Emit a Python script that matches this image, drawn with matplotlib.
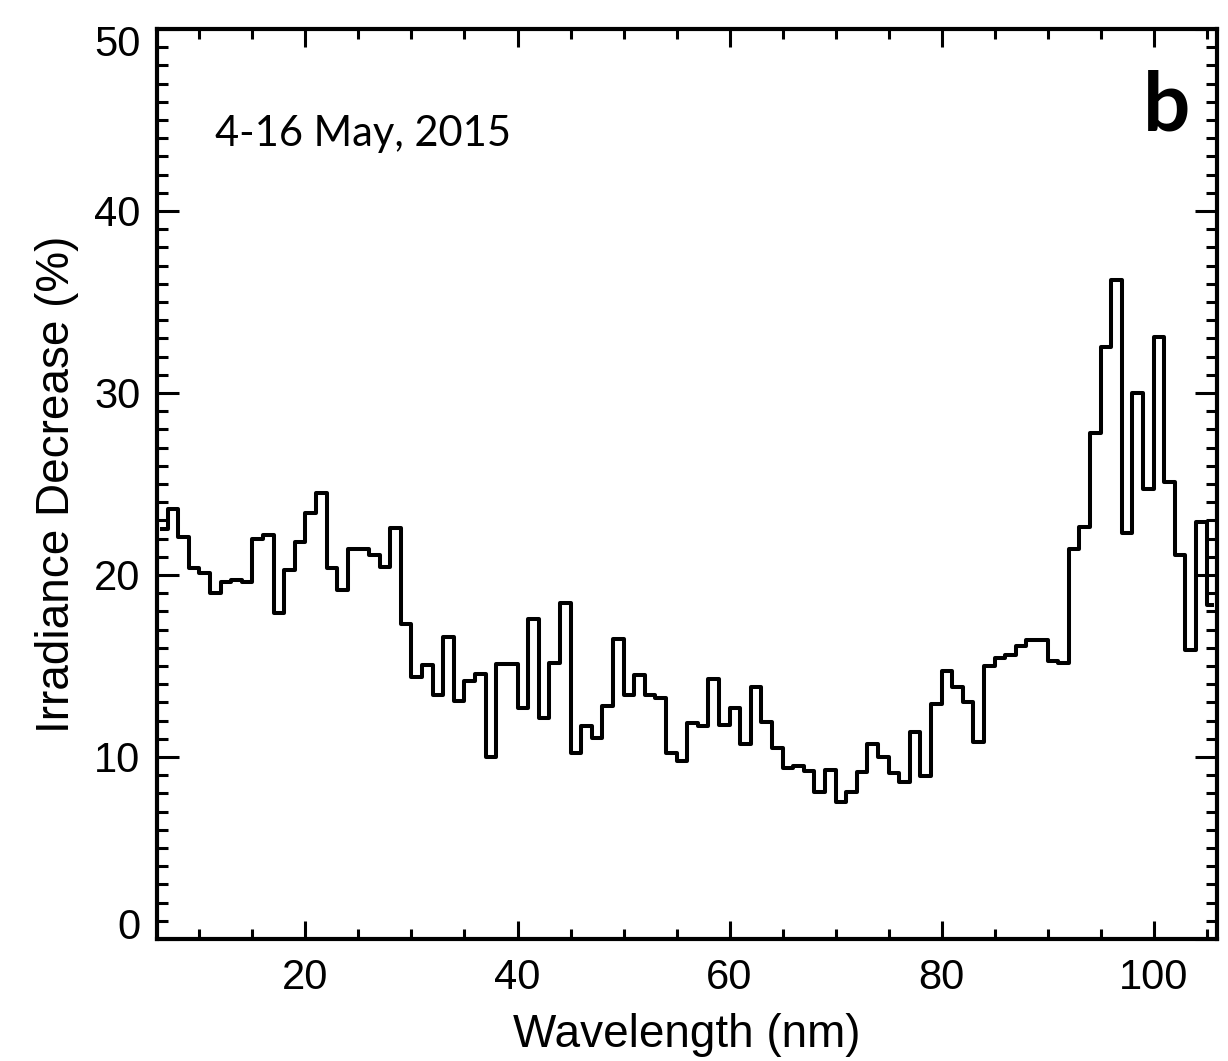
import numpy as np
import matplotlib
matplotlib.use("Agg")
import matplotlib.pyplot as plt
from matplotlib.ticker import MultipleLocator, FuncFormatter

# 1 nm bins, centres 6.5 ... 105.5 nm
wavelength = np.arange(6.5, 106.0, 1.0)

# irradiance decrease (%) for 4-16 May 2015
decrease = [
    22.5, 23.6, 22.1, 20.4, 20.1, 19.0, 19.6, 19.7, 19.6, 22.0,   # 6.5 - 15.5
    22.2, 17.9, 20.3, 21.8, 23.4, 24.5, 20.4, 19.2, 21.4, 21.4,   # 16.5 - 25.5
    21.1, 20.45, 22.6, 17.3, 14.4, 15.05, 13.4, 16.6, 13.05, 14.15,  # 26.5 - 35.5
    14.55, 10.0, 15.1, 15.1, 12.7, 17.6, 12.15, 15.15, 18.45, 10.2,  # 36.5 - 45.5
    11.7, 11.05, 12.8, 16.5, 13.4, 14.5, 13.4, 13.25, 10.2, 9.8,  # 46.5 - 55.5
    11.85, 11.7, 14.3, 11.75, 12.7, 10.7, 13.85, 11.9, 10.5, 9.4,  # 56.5 - 65.5
    9.5, 9.25, 8.05, 9.3, 7.5, 8.05, 9.2, 10.7, 10.0, 9.1,        # 66.5 - 75.5
    8.65, 11.35, 8.95, 12.9, 14.75, 13.85, 13.0, 10.85, 15.0, 15.45,  # 76.5 - 85.5
    15.6, 16.1, 16.45, 16.4, 15.3, 15.15, 21.4, 22.65, 27.8, 32.55,  # 86.5 - 95.5
    36.2, 22.3, 30.0, 24.7, 33.1, 25.1, 21.1, 15.9, 22.9, 18.35,  # 96.5 - 105.5
]

y_min, y_max = 0, 50

plt.rcParams['font.family'] = ['Liberation Sans', 'DejaVu Sans']

fig = plt.figure(figsize=(12.28, 10.61), dpi=100)
ax = fig.add_axes([0.1279, 0.115, 0.8633, 0.8577])

ax.step(wavelength, decrease, where='mid', color='black', linewidth=2.9)

ax.set_xlim(6, 106)
ax.set_ylim(y_min, y_max)
ax.xaxis.set_major_locator(MultipleLocator(20))
ax.xaxis.set_minor_locator(MultipleLocator(5))
ax.yaxis.set_major_locator(MultipleLocator(10))
ax.yaxis.set_minor_locator(MultipleLocator(1))

# end labels are drawn separately so they sit inside the axis range
ax.yaxis.set_major_formatter(FuncFormatter(
    lambda v, pos: '' if v in (y_min, y_max) else f'{v:.0f}'))
ax.annotate(f'{y_min}', xy=(0, y_min), xycoords=('axes fraction', 'data'),
            xytext=(-12, 0), textcoords='offset points',
            ha='right', va='baseline', fontsize=30)
ax.annotate(f'{y_max}', xy=(0, y_max), xycoords=('axes fraction', 'data'),
            xytext=(-12, 3), textcoords='offset points',
            ha='right', va='top', fontsize=30)

ax.tick_params(axis='both', which='both', direction='in', top=True, right=True,
               width=2.2, labelsize=30)
ax.tick_params(axis='x', which='major', length=13, pad=14)
ax.tick_params(axis='x', which='minor', length=7)
ax.tick_params(axis='y', which='major', length=16, pad=12)
ax.tick_params(axis='y', which='minor', length=8)
for sp in ax.spines.values():
    sp.set_linewidth(3)

ax.set_xlabel('Wavelength (nm)', fontsize=33)
ax.set_ylabel('Irradiance Decrease (%)', fontsize=33)
ax.xaxis.set_label_coords(0.5, -0.081)
ax.yaxis.set_label_coords(-0.074, 0.5)

ax.text(0.055, 0.885, '4-16 May, 2015', transform=ax.transAxes,
        fontsize=30, family='Lato', va='center', ha='left')
ax.text(0.975, 0.955, 'b', transform=ax.transAxes,
        fontsize=60, family='Lato', fontweight='bold', va='top', ha='right')

fig.savefig('out.png', dpi=100)
